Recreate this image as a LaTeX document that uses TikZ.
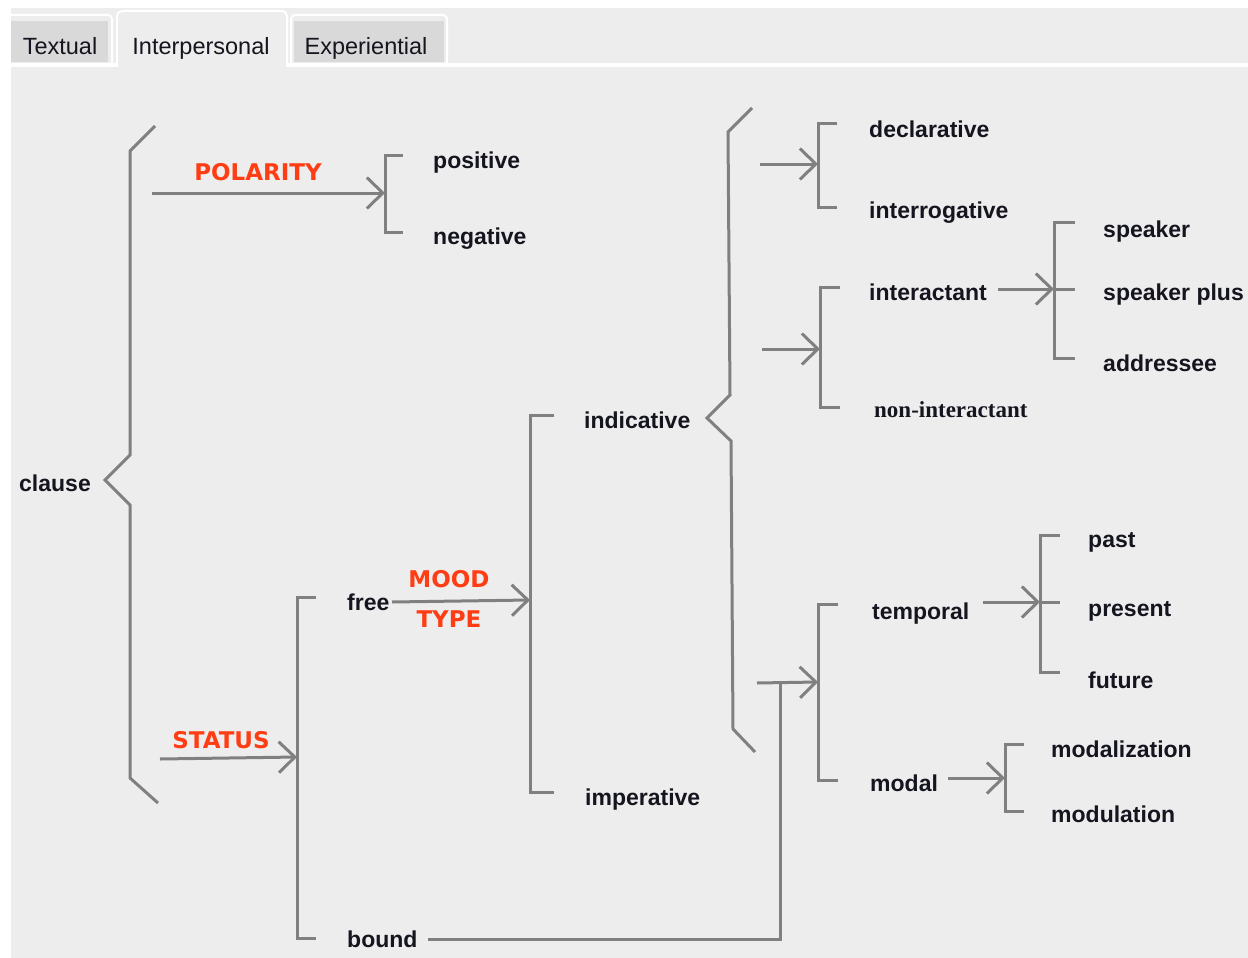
\documentclass[tikz,border=0pt]{standalone}
\usepackage{fontspec}
\setmainfont{Liberation Sans}
\newfontfamily\featfont{DejaVu Sans}
\newfontfamily\seriffont{Liberation Serif}
\usetikzlibrary{arrows.meta}
\definecolor{panel}{HTML}{EDEDED}
\definecolor{tabgray}{HTML}{D9D9D9}
\definecolor{wire}{HTML}{808080}
\definecolor{feature}{HTML}{FF3D14}
\definecolor{ink}{HTML}{15151F}
\begin{document}
\begin{tikzpicture}[x=1pt,y=-1pt,
  wire/.style={draw=wire, line width=3pt},
  choice/.style={wire, -{Straight Barb[length=16pt,width=31pt]}},
  term/.style={anchor=base west, inner sep=0pt, text=ink,
    font=\fontsize{23}{25}\selectfont\bfseries},
  serifterm/.style={anchor=base west, inner sep=0pt, text=ink,
    font=\seriffont\fontsize{23}{25}\selectfont\bfseries},
  system/.style={anchor=base, inner sep=0pt, text=feature,
    font=\featfont\fontsize{23}{25}\selectfont\bfseries},
  tabtext/.style={anchor=base, inner sep=0pt, text=ink,
    font=\fontsize{23.5}{25}\selectfont},
  tabframe/.style={fill=panel, draw=white, line width=2pt, rounded corners=4pt},
]
\useasboundingbox (0,0) rectangle (1248,958);

% window background and panel
\fill[white] (0,0) rectangle (1248,958);
\fill[panel] (11,8) rectangle (1248,958);

% inactive tabs
\begin{scope}
  \clip (11,8) rectangle (1248,958);
  \filldraw[tabframe] (2,15) rectangle (112,66);
  \fill[tabgray] (11,21) rectangle (108,62);
  \filldraw[tabframe] (291,15) rectangle (447,66);
  \fill[tabgray] (294,21) rectangle (444,62);
\end{scope}
% tab strip separator
\fill[white] (11,63) rectangle (118,67);
\fill[white] (286,63) rectangle (1248,67);
% active tab
\filldraw[fill=panel, draw=white, line width=2pt, rounded corners=5pt]
  (117,67) -- (117,11) -- (287,11) -- (287,67);

\node[tabtext] (tabT) at (60,54.5) {Textual};
\node[tabtext] (tabI) at (201,54.5) {Interpersonal};
\node[tabtext] (tabE) at (366,54.5) {Experiential};

% ---------- clause ----------
\node[term] (clause) at (19,491) {clause};
\draw[wire] (155,126) -- (130,151) -- (130,455) -- (105,480) -- (130,505)
  -- (130,778) -- (158,803);

% polarity
\coordinate (polS) at (152,193);
\coordinate (polJ) at (385,193);
\draw[choice] (polS) -- (polJ);
\node[system] (polarity) at (258,180) {POLARITY};
\draw[wire] (403,155) -- (385,155) -- (385,232) -- (403,232);
\node[term] (positive) at (433,168) {positive};
\node[term] (negative) at (433,244) {negative};

% status
\coordinate (stS) at (160,759);
\coordinate (stJ) at (297,757);
\draw[choice] (stS) -- (stJ);
\node[system] (status) at (221,748) {STATUS};
\draw[wire] (316,597) -- (297,597) -- (297,938) -- (316,938);
\node[term] (free) at (347,610) {free};
\node[term] (bound) at (347,947) {bound};

% mood type
\coordinate (mtS) at (392,602);
\coordinate (mtJ) at (530,600);
\draw[choice] (mtS) -- (mtJ);
\node[system] (mood) at (449,587) {MOOD};
\node[system] (type) at (449,627) {TYPE};
\draw[wire] (554,415) -- (530,415) -- (530,792) -- (554,792);
\node[term] (indicative) at (584,428) {indicative};
\node[term] (imperative) at (585,805) {imperative};

% indicative brace
\draw[wire] (752,108) -- (728,132) -- (730,395) -- (707,418) -- (731,441)
  -- (733,729) -- (755,752);

% indicative type
\coordinate (itS) at (760,164);
\coordinate (itJ) at (818,164);
\draw[choice] (itS) -- (itJ);
\draw[wire] (837,123) -- (818,123) -- (818,207) -- (837,207);
\node[term] (declarative) at (869,137) {declarative};
\node[term] (interrogative) at (869,218) {interrogative};

% interactancy
\coordinate (iaS) at (762,349);
\coordinate (iaJ) at (820,349);
\draw[choice] (iaS) -- (iaJ);
\draw[wire] (840,287) -- (820,287) -- (820,407) -- (840,407);
\node[term] (interactant) at (869,300) {interactant};
\node[serifterm] (noninteractant) at (874,417) {non-interactant};

\coordinate (spS) at (998,289);
\coordinate (spJ) at (1054,289);
\draw[choice] (spS) -- (spJ);
\draw[wire] (1075,222) -- (1054,222) -- (1054,358) -- (1075,358);
\draw[wire] (spJ) -- (1075,289);
\node[term] (speaker) at (1103,237) {speaker};
\node[term] (speakerplus) at (1103,300) {speaker plus};
\node[term] (addressee) at (1103,371) {addressee};

% deicticity (entered from indicative and from bound)
\coordinate (dxS) at (757,683);
\coordinate (dxK) at (780,683);
\coordinate (dxJ) at (818,682);
\draw[choice] (dxS) -- (dxJ);
\draw[wire] (428,939) -| (dxK);
\draw[wire] (838,604) -- (818,604) -- (818,780) -- (838,780);
\node[term] (temporal) at (872,619) {temporal};
\node[term] (modal) at (870,791) {modal};

% tense
\coordinate (tnS) at (983,602);
\coordinate (tnJ) at (1040,602);
\draw[choice] (tnS) -- (tnJ);
\draw[wire] (1060,535) -- (1040,535) -- (1040,672) -- (1060,672);
\draw[wire] (tnJ) -- (1060,602);
\node[term] (past) at (1088,547) {past};
\node[term] (present) at (1088,616) {present};
\node[term] (future) at (1088,688) {future};

% modality
\coordinate (mdS) at (948,778);
\coordinate (mdJ) at (1005,778);
\draw[choice] (mdS) -- (mdJ);
\draw[wire] (1024,744) -- (1005,744) -- (1005,811) -- (1024,811);
\node[term] (modalization) at (1051,757) {modalization};
\node[term] (modulation) at (1051,822) {modulation};
\end{tikzpicture}
\end{document}
